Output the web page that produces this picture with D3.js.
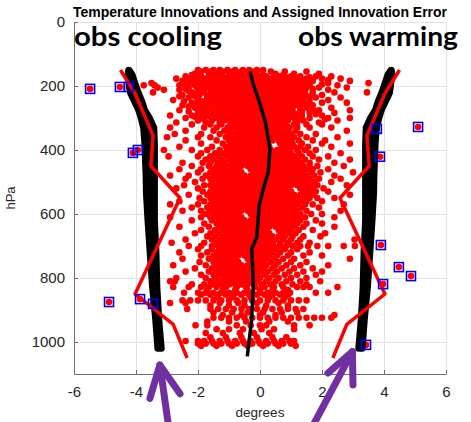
<!DOCTYPE html>
<html>
<head>
<meta charset="utf-8">
<script src="https://cdn.jsdelivr.net/npm/d3@7"></script>
<style>
  html, body { margin: 0; padding: 0; background: #fff; }
  svg { display: block; }
</style>
</head>
<body>
<svg id="chart" width="471" height="422"></svg>
<script>
// ---- axis ticks ----
const xTicks = [-6, -4, -2, 0, 2, 4, 6];
const yTicks = [0, 200, 400, 600, 800, 1000];

// ---- temperature innovations: [pressure hPa, innovations (deg)] ----
const innovRows = [
  [150, [-2.0,-1.75,-1.5,-1.3,-1.05,-0.8,-0.55,-0.35,-0.1,0.1]],
  [155, [-1.9,-1.6,-1.2,-0.9,-0.6,-0.25,0.35,0.8,1.5]],
  [162, [-2.1,-1.4,-0.7,-0.1,0.5,1.1,1.9]],
  [166, [-2.2,-1.65,-1.0,-0.4,0.1,0.75]],
  [170, [-2.4,-1.9,-1.5,-1.2,-0.8,-0.5,-0.2,0.2,0.6,1.0,1.3,1.8,2.3]],
  [173, [-2.05,-1.65,-1.3,-0.95,-0.6,-0.05,0.45,0.85,1.6]],
  [177, [-2.7,-2.2,-1.8,-1.4,-1.1,-0.7,-0.3,0.0,0.3,0.7,1.1,1.5,2.0,2.6]],
  [181, [-2.35,-1.95,-1.55,-1.2,-0.85,-0.5,-0.15,0.15,0.6,0.95,1.35,2.2]],
  [184, [-2.5,-2.0,-1.6,-1.3,-0.95,-0.6,-0.25,0.1,0.45,0.9,1.25,1.7,2.9]],
  [188, [-2.15,-1.75,-1.4,-1.05,-0.7,-0.35,0.0,0.45,0.8,1.15,1.55]],
  [191, [-3.5,-2.3,-1.85,-1.5,-1.15,-0.8,-0.45,-0.1,0.3,0.6,1.0,1.4,2.2,3.5]],
  [195, [-2.45,-1.95,-1.55,-1.2,-0.85,-0.5,-0.05,0.3,0.65,1.0,1.4,2.0]],
  [198, [-3.75,-3.4,-2.6,-2.1,-1.7,-1.3,-0.95,-0.6,-0.2,0.15,0.5,0.85,1.2,1.6,2.5]],
  [202, [-2.05,-1.65,-1.25,-0.85,-0.5,-0.15,0.2,0.55,0.95,1.3]],
  [205, [-3.3,-2.3,-1.9,-1.5,-1.0,-0.7,-0.35,0.0,0.35,0.7,1.05,1.5,1.9,2.8]],
  [209, [-2.4,-1.8,-1.4,-1.05,-0.65,-0.3,0.05,0.4,0.75,1.1,1.7]],
  [212, [-3.1,-2.6,-2.0,-1.6,-1.2,-0.85,-0.5,-0.15,0.2,0.55,0.9,1.3,2.2]],
  [216, [-2.3,-1.85,-1.45,-1.1,-0.7,-0.4,-0.05,0.3,0.7,1.05,1.45]],
  [220, [-3.45,-2.2,-1.8,-1.35,-1.0,-0.6,-0.25,0.05,0.4,0.8,1.2,1.7,2.4,3.45]],
  [224, [-2.0,-1.6,-1.2,-0.85,-0.5,-0.2,0.15,0.55,0.9,1.3]],
  [228, [-2.5,-1.95,-1.5,-1.1,-0.75,-0.4,-0.1,0.3,0.65,1.0,1.45,2.0]],
  [232, [-2.6,-2.1,-1.7,-1.35,-0.95,-0.6,-0.3,0.0,0.35,0.75,1.15,1.6]],
  [236, [-2.3,-1.7,-1.25,-0.9,-0.55,-0.2,0.15,0.5,0.9,1.3,1.8,2.6]],
  [240, [-2.0,-1.6,-1.15,-0.8,-0.45,-0.1,0.25,0.6,1.0,1.4]],
  [244, [-2.8,-2.0,-1.5,-1.05,-0.7,-0.35,0.0,0.35,0.7,1.1,1.6,2.2]],
  [248, [-2.45,-1.85,-1.4,-1.0,-0.65,-0.3,0.05,0.4,0.8,1.25]],
  [252, [-2.2,-1.75,-1.3,-0.85,-0.5,-0.15,0.2,0.55,0.95,1.4,2.0,2.8]],
  [256, [-2.0,-1.55,-1.15,-0.75,-0.4,-0.05,0.3,0.7,1.1,1.55]],
  [260, [-2.5,-1.9,-1.45,-1.0,-0.65,-0.3,0.05,0.4,0.75,1.2,1.7]],
  [264, [-2.3,-1.75,-1.3,-0.9,-0.55,-0.2,0.15,0.5,0.85,1.3]],
  [268, [-2.1,-1.6,-1.15,-0.8,-0.45,-0.1,0.25,0.6,1.0,1.5,2.3]],
  [272, [-1.95,-1.5,-1.1,-0.75,-0.4,-0.05,0.3,0.65,1.05,1.7]],
  [276, [-2.6,-1.8,-1.35,-0.95,-0.6,-0.25,0.1,0.45,0.85,1.3,1.9,2.9]],
  [280, [-2.3,-1.7,-1.25,-0.85,-0.5,-0.15,0.2,0.5,0.9,1.35]],
  [284, [-2.0,-1.5,-1.1,-0.75,-0.4,-0.05,0.3,0.65,1.05,1.6,2.4]],
  [288, [-1.85,-1.35,-0.95,-0.6,-0.3,0.05,0.4,0.75,1.15,1.8]],
  [292, [-2.9,-2.2,-1.7,-1.25,-0.9,-0.55,-0.2,0.15,0.5,0.9,1.35,2.0]],
  [296, [-2.1,-1.6,-1.2,-0.85,-0.5,-0.15,0.2,0.55,0.95,1.3]],
  [300, [-2.4,-1.9,-1.45,-1.05,-0.7,-0.35,0.0,0.35,0.7,1.1,1.6,2.2,2.9]],
  [304, [-1.8,-1.3,-0.95,-0.6,-0.3,0.05,0.4,0.75,1.15,2.1]],
  [308, [-2.0,-1.55,-1.15,-0.8,-0.5,-0.25,0.0,0.25,0.55,0.9,1.4,2.5]],
  [314, [-2.7,-1.75,-1.3,-0.95,-0.7,-0.45,-0.15,0.1,0.35,0.6,0.8,1.2,1.9]],
  [320, [-2.2,-1.6,-1.25,-0.95,-0.75,-0.55,-0.35,-0.15,0.05,0.25,0.45,0.65,0.85,1.1,1.5,2.0]],
  [330, [-2.9,-1.8,-1.4,-1.05,-0.85,-0.65,-0.45,-0.25,-0.05,0.15,0.35,0.55,0.75,0.95,1.2,1.6,2.3]],
  [340, [-2.4,-1.5,-1.15,-0.95,-0.7,-0.5,-0.3,-0.1,0.1,0.3,0.5,0.7,0.9,1.15,2.8]],
  [350, [-2.75,-1.9,-1.3,-1.0,-0.8,-0.6,-0.4,-0.2,0.0,0.2,0.4,0.6,0.8,1.0,1.3,1.8]],
  [360, [-3.0,-2.0,-1.6,-1.1,-0.9,-0.7,-0.5,-0.3,-0.1,0.1,0.3,0.5,0.7,0.9,1.1,1.5,2.5]],
  [370, [-2.4,-1.4,-1.0,-0.8,-0.6,-0.4,-0.2,0.0,0.2,0.4,0.6,0.8,1.0,1.25,1.7,2.1]],
  [380, [-1.9,-1.2,-0.95,-0.75,-0.55,-0.35,-0.15,0.05,0.25,0.65,0.85,1.05,1.35,2.0,2.9]],
  [390, [-2.6,-1.55,-1.1,-0.9,-0.7,-0.5,-0.3,-0.1,0.1,0.3,0.7,0.9,1.1,1.3,1.55,2.3]],
  [400, [-3.1,-2.2,-1.7,-1.3,-1.05,-0.85,-0.65,-0.45,-0.25,-0.05,0.15,0.35,0.55,0.75,0.95,1.2,1.45,1.8]],
  [410, [-1.9,-1.45,-1.2,-1.0,-0.8,-0.6,-0.4,-0.2,0.0,0.2,0.4,0.6,0.8,1.0,1.25,1.6,2.6]],
  [420, [-2.95,-2.0,-1.6,-1.35,-1.1,-0.9,-0.7,-0.5,-0.3,-0.1,0.1,0.3,0.5,0.7,0.9,1.1,1.35,1.7,2.2]],
  [430, [-1.75,-1.5,-1.25,-1.0,-0.8,-0.6,-0.4,-0.2,0.0,0.2,0.4,0.6,0.8,1.0,1.2,1.45,1.9,2.9]],
  [440, [-2.5,-1.85,-1.6,-1.35,-1.15,-0.9,-0.7,-0.5,-0.3,-0.1,0.1,0.3,0.5,0.7,0.9,1.1,1.3,1.6,2.4]],
  [450, [-2.2,-1.65,-1.4,-1.2,-1.0,-0.8,-0.6,-0.4,-0.2,0.0,0.2,0.4,0.6,0.8,1.0,1.2,1.4,1.6,1.85,2.7]],
  [460, [-2.6,-1.9,-1.5,-1.3,-1.1,-0.9,-0.7,-0.3,-0.1,0.1,0.3,0.5,0.7,0.9,1.1,1.3,1.5,1.7,2.2]],
  [470, [-2.0,-1.6,-1.4,-1.2,-1.0,-0.8,-0.6,-0.2,0.0,0.2,0.4,0.6,0.8,1.0,1.2,1.4,1.65,1.95,3.0]],
  [480, [-2.9,-2.3,-1.75,-1.5,-1.3,-1.1,-0.9,-0.7,-0.5,-0.3,-0.1,0.1,0.3,0.5,0.7,0.9,1.1,1.3,1.5,1.75,2.4]],
  [490, [-2.4,-1.85,-1.6,-1.4,-1.2,-1.0,-0.8,-0.6,-0.4,-0.2,0.0,0.2,0.4,0.6,0.8,1.0,1.2,1.4,1.6,1.9,2.6]],
  [500, [-2.1,-1.55,-1.3,-1.1,-0.9,-0.7,-0.5,-0.3,-0.1,0.1,0.3,0.5,0.7,0.9,1.1,1.3,1.5,1.75,2.3]],
  [510, [-2.45,-1.8,-1.6,-1.4,-1.2,-1.0,-0.8,-0.6,-0.4,-0.2,0.0,0.2,0.4,0.6,0.8,1.0,1.2,1.4,1.6,1.85,2.8]],
  [520, [-2.7,-2.0,-1.5,-1.3,-1.1,-0.9,-0.7,-0.5,-0.3,-0.1,0.1,0.3,0.5,0.7,0.9,1.3,1.5,1.7,2.05]],
  [530, [-1.85,-1.6,-1.4,-1.2,-1.0,-0.8,-0.6,-0.4,-0.2,0.0,0.2,0.4,0.6,0.8,1.0,1.4,1.6,1.8,2.2]],
  [540, [-2.3,-1.7,-1.5,-1.3,-1.1,-0.9,-0.7,-0.5,-0.3,-0.1,0.1,0.3,0.5,0.7,0.9,1.1,1.3,1.5,1.7,2.9]],
  [550, [-1.95,-1.6,-1.4,-1.2,-1.0,-0.8,-0.6,-0.4,-0.2,0.0,0.2,0.4,0.6,0.8,1.0,1.2,1.4,1.6,1.85,2.4]],
  [560, [-2.6,-1.8,-1.5,-1.3,-1.1,-0.9,-0.7,-0.5,-0.3,-0.1,0.1,0.3,0.5,0.7,0.9,1.1,1.3,1.5,2.0]],
  [570, [-2.9,-2.0,-1.6,-1.4,-1.2,-1.0,-0.8,-0.6,-0.4,-0.2,0.0,0.2,0.4,0.6,0.8,1.0,1.2,1.45,1.7,2.7]],
  [580, [-2.2,-1.7,-1.5,-1.3,-1.1,-0.9,-0.7,-0.5,-0.3,-0.1,0.1,0.3,0.5,0.7,0.9,1.1,1.35,1.9]],
  [590, [-2.5,-1.9,-1.6,-1.4,-1.2,-1.0,-0.8,-0.6,-0.4,-0.2,0.0,0.2,0.4,0.6,0.8,1.0,1.2,1.5,2.6]],
  [600, [-1.75,-1.5,-1.3,-1.1,-0.9,-0.7,-0.3,-0.1,0.1,0.3,0.5,0.7,0.9,1.1,1.3,1.65,2.0]],
  [610, [-2.9,-1.9,-1.6,-1.4,-1.2,-1.0,-0.8,-0.6,-0.2,0.0,0.2,0.4,0.6,0.8,1.0,1.2,1.45,2.4]],
  [620, [-2.2,-1.55,-1.3,-1.1,-0.9,-0.7,-0.5,-0.3,-0.1,0.1,0.3,0.5,0.7,0.9,1.1,1.3,1.8]],
  [630, [-1.8,-1.4,-1.2,-1.0,-0.8,-0.6,-0.4,-0.2,0.0,0.2,0.4,0.6,0.8,1.0,1.2,1.5,2.0]],
  [640, [-2.6,-1.65,-1.3,-1.1,-0.9,-0.7,-0.5,-0.3,-0.1,0.1,0.3,0.5,0.7,0.9,1.1,1.4,2.4]],
  [650, [-1.9,-1.45,-1.2,-1.0,-0.8,-0.6,-0.4,-0.2,0.0,0.2,0.6,0.8,1.0,1.25,1.7]],
  [660, [-2.1,-1.6,-1.35,-1.1,-0.9,-0.7,-0.5,-0.3,-0.1,0.1,0.3,0.7,0.9,1.15,2.1]],
  [670, [-1.7,-1.45,-1.2,-1.0,-0.8,-0.6,-0.4,-0.2,0.0,0.2,0.4,0.6,0.8,1.05,1.4,1.95]],
  [680, [-2.4,-1.55,-1.3,-1.1,-0.9,-0.7,-0.5,-0.3,-0.1,0.1,0.3,0.5,0.75,1.0,1.3,3.05]],
  [690, [-2.85,-1.8,-1.4,-1.2,-1.0,-0.8,-0.6,-0.4,-0.2,0.0,0.2,0.4,0.65,0.9,1.2,1.6]],
  [700, [-2.3,-1.9,-1.55,-1.35,-1.15,-0.95,-0.75,-0.55,-0.35,-0.15,0.05,0.25,0.45,0.65,0.85,1.05,1.3,1.55,1.85,2.2,2.7,3.06]],
  [710, [-2.0,-1.55,-1.3,-1.1,-0.9,-0.7,-0.5,-0.3,-0.1,0.1,0.3,0.5,0.8,1.2]],
  [720, [-2.6,-1.7,-1.4,-1.2,-1.0,-0.8,-0.6,-0.4,-0.2,0.0,0.2,0.4,0.65,1.0,1.6]],
  [730, [-1.9,-1.5,-1.3,-1.1,-0.9,-0.7,-0.5,-0.3,-0.1,0.1,0.3,0.55,0.9,1.4,2.0]],
  [740, [-2.5,-1.65,-1.4,-1.2,-1.0,-0.8,-0.4,-0.2,0.0,0.2,0.45,0.75,1.1,2.9]],
  [750, [-1.95,-1.5,-1.3,-1.1,-0.9,-0.7,-0.3,-0.1,0.1,0.35,0.6,1.0,1.5]],
  [760, [-2.8,-1.75,-1.4,-1.2,-1.0,-0.8,-0.6,-0.4,-0.2,0.0,0.2,0.5,0.85,1.3,2.2]],
  [770, [-2.1,-1.55,-1.3,-1.1,-0.9,-0.7,-0.5,-0.3,-0.1,0.1,0.4,0.7,1.1,1.7]],
  [780, [-2.4,-1.65,-1.4,-1.2,-1.0,-0.8,-0.6,-0.4,-0.2,0.0,0.25,0.55,0.95,1.4,2.0]],
  [790, [-1.9,-1.5,-1.3,-1.1,-0.9,-0.7,-0.5,-0.3,-0.1,0.15,0.45,0.8,1.2,1.8]],
  [800, [-2.7,-1.75,-1.45,-1.2,-1.0,-0.8,-0.6,-0.4,-0.2,0.0,0.3,0.6,1.0,1.5]],
  [810, [-2.9,-2.75,-1.6,-1.35,-1.1,-0.9,-0.7,-0.5,-0.3,-0.1,0.2,0.5,0.85,1.3,1.94]],
  [820, [-2.2,-1.8,-1.5,-1.25,-1.0,-0.8,-0.6,-0.4,-0.2,0.05,0.35,0.7,1.05,1.5]],
  [828, [-2.8,-2.3,-1.9,-1.65,-1.4,-1.1,-0.75,-0.45,-0.15,0.15,0.45,0.75,1.2,1.4,1.6,2.5]],
  [838, [-1.7,-1.2,-0.8,-0.4,0.0,0.4,0.9]],
  [846, [-2.45,-2.0,-1.75,-1.5,-1.25,-1.0,-0.75,-0.5,-0.25,0.0,0.25,0.5,0.75,0.97,1.8,2.2]],
  [852, [-1.9,-1.6,-1.35,-1.1,-0.85,-0.6,-0.35,-0.1,0.15,0.4,0.65,0.9]],
  [860, [-1.4,-0.9,-0.3,0.3,0.8]],
  [870, [-2.5,-2.25,-2.0,-1.75,-1.5,-1.25,-1.0,-0.75,-0.5,-0.25,0.0,0.25,0.5,0.75,1.0,1.25,1.5]],
  [878, [-2.9,-2.4,-1.3,-0.7,-0.1,0.6]],
  [886, [-1.6,-1.0,-0.5,0.2,0.9]],
  [897, [-2.35,-1.6,-1.35,-1.1,-0.85,-0.6,-0.35,-0.1,0.15,0.4,0.65,0.9,1.15,1.4]],
  [908, [-1.5,-0.9,-0.4,0.1,0.7,1.2]],
  [916, [-1.2,-0.6,0.0,0.5,2.4]],
  [924, [-1.5,-1.25,-1.0,-0.75,-0.5,-0.25,0.0,0.25,0.5,0.75,1.0,1.25,1.5,1.75,2.0,2.3]],
  [936, [-1.7,-1.0,-0.45,0.3,0.9]],
  [948, [-2.08,-1.7,-0.75,-0.3,0.0,0.2,1.1,1.6]],
  [960, [-1.4,-1.0,-0.55,0.05,0.45,1.1]],
  [972, [-1.75,-1.2,-0.65,-0.2,0.3]],
  [985, [-1.6,-1.1,-0.6,-0.1,0.4,0.85]],
  [997, [-2.4,-2.0,-1.8,-1.55,-1.3,-1.05,-0.8,-0.55,-0.3,-0.05,0.2,0.45,0.7,0.95,1.1]],
  [1005, [-2.0,-1.75,-1.5,-1.25,-1.0,-0.75,-0.5,-0.25,0.0,0.25,0.5,0.75,1.0]],
  [1012, [-1.9,-1.4,-0.9,-0.4,0.1,0.6,1.15]]
];

// ---- innovations rejected by the check (boxed) ----
const flaggedX = [-5.48, -4.52, -4.23, -4.1, -3.94, -4.87, -3.87, -3.45, 3.77, 5.1, 3.87, 3.9, 4.48, 4.87, 3.97, 3.42];
const flaggedP = [209, 203, 203, 409, 400, 875, 866, 881, 334, 328, 421, 697, 766, 794, 819, 1009];

// ---- assigned innovation error (plotted as +/- band) ----
const errP     = [150, 165, 195, 222, 250, 275, 300, 330, 380, 430, 480, 535, 620, 720, 830, 930, 1020];
const errInner = [4.22, 4.12, 4.02, 3.92, 3.8, 3.72, 3.56, 3.42, 3.4, 3.4, 3.4, 3.4, 3.4, 3.35, 3.32, 3.26, 3.18];
const errOuter = [4.24, 4.26, 4.22, 4.18, 4.04, 3.92, 3.84, 3.76, 3.72, 3.7, 3.68, 3.67, 3.62, 3.55, 3.47, 3.37, 3.3];

// ---- mean innovation profile ----
const meanP = [155, 200, 250, 312, 395, 468, 520, 575, 672, 710, 760, 830, 930, 1045];
const meanX = [-0.32, -0.2, -0.02, 0.17, 0.32, 0.27, 0.11, -0.03, -0.1, -0.27, -0.24, -0.22, -0.27, -0.41];

// ---- rejection threshold (symmetric, red) ----
const threshP   = [150, 225, 355, 450, 550, 850, 945, 1050];
const threshMag = [4.5, 4.02, 3.45, 3.52, 2.58, 4.03, 2.8, 2.35];

// ---- annotation arrows, in (deg, hPa) ----
const arrowTip   = [[-3.23, 1072], [2.98, 1030]];
const arrowTail  = [[-2.91, 1290], [1.55, 1290]];
const arrowWingA = [[-3.55, 1176], [2.19, 1097]];
const arrowWingB = [[-2.58, 1162], [3.0, 1134]];

// ---------------------------------------------------------------
const svg = d3.select("#chart");
const x = d3.scaleLinear().domain([-6, 6]).range([74, 446]);
const y = d3.scaleLinear().domain([0, 1100]).range([22, 374]);
const [x0, x1] = x.range();
const [y0, y1] = y.range();

const textColor = "#262626";
const axisFont = "'Liberation Sans', Arial, Helvetica, sans-serif";

// grid
const grid = svg.append("g").attr("stroke", "#e2e2e2").attr("stroke-width", 1);
grid.selectAll("line.gx").data(xTicks).join("line").attr("class", "gx")
  .attr("x1", d => Math.round(x(d)) + 0.5).attr("x2", d => Math.round(x(d)) + 0.5)
  .attr("y1", y0).attr("y2", y1);
grid.selectAll("line.gy").data(yTicks).join("line").attr("class", "gy")
  .attr("y1", d => Math.round(y(d)) + 0.5).attr("y2", d => Math.round(y(d)) + 0.5)
  .attr("x1", x0).attr("x2", x1);

// clip for data
svg.append("defs").append("clipPath").attr("id", "plot-clip")
  .append("rect").attr("x", x0).attr("y", y0).attr("width", x1 - x0).attr("height", y1 - y0);
const plot = svg.append("g").attr("clip-path", "url(#plot-clip)");

// innovation dots
const innov = innovRows.flatMap(([p, xs]) => xs.map(v => ({ p, v })));
const flagged = flaggedX.map((v, i) => ({ v, p: flaggedP[i] }));
const R = 3.3;
plot.append("g").attr("fill", "#ff0000")
  .selectAll("circle").data(innov.concat(flagged)).join("circle")
  .attr("cx", d => x(d.v)).attr("cy", d => y(d.p)).attr("r", R);

// assigned error band, both signs
const err = errP.map((p, i) => ({ p, inner: errInner[i], outer: errOuter[i] }));
[-1, 1].forEach(sign => {
  const area = d3.area()
    .y(d => y(d.p))
    .x0(d => x(sign * d.inner))
    .x1(d => x(sign * d.outer));
  plot.append("path").datum(err)
    .attr("d", area)
    .attr("fill", "#000").attr("stroke", "#000")
    .attr("stroke-width", 2 * R).attr("stroke-linejoin", "round");
});

// mean innovation line
const mean = meanP.map((p, i) => ({ p, v: meanX[i] }));
plot.append("path").datum(mean)
  .attr("d", d3.line().x(d => x(d.v)).y(d => y(d.p)))
  .attr("fill", "none").attr("stroke", "#000").attr("stroke-width", 3.5)
  .attr("stroke-linejoin", "round");

// threshold lines
const thresh = threshP.map((p, i) => ({ p, m: threshMag[i] }));
[-1, 1].forEach(sign => {
  plot.append("path").datum(thresh)
    .attr("d", d3.line().x(d => x(sign * d.m)).y(d => y(d.p)))
    .attr("fill", "none").attr("stroke", "#ff0000").attr("stroke-width", 3.5)
    .attr("stroke-linejoin", "round");
});

// boxes round rejected innovations
const S = 9;
plot.append("g").attr("fill", "none").attr("stroke", "#0000ff").attr("stroke-width", 1.6)
  .selectAll("rect").data(flagged).join("rect")
  .attr("x", d => x(d.v) - S / 2).attr("y", d => y(d.p) - S / 2)
  .attr("width", S).attr("height", S);

// axes
const xAxis = d3.axisBottom(x).tickValues(xTicks).tickSizeInner(-4).tickSizeOuter(0).tickPadding(12)
  .tickFormat(d3.format("d"));
const yAxis = d3.axisLeft(y).tickValues(yTicks).tickSizeInner(-4).tickSizeOuter(0).tickPadding(9)
  .tickFormat(d3.format("d"));

const gx = svg.append("g").attr("transform", `translate(0,${y1})`).call(xAxis);
const gy = svg.append("g").attr("transform", `translate(${x0},0)`).call(yAxis);
[gx, gy].forEach(g => {
  g.select(".domain").attr("stroke", "#6e6e6e");
  g.selectAll(".tick line").attr("stroke", "#6e6e6e");
  g.selectAll(".tick text").attr("fill", textColor)
    .style("font-family", axisFont).style("font-size", "15px");
});
gx.selectAll(".tick text").text(d => d < 0 ? "-" + Math.abs(d) : d);

// axis labels
svg.append("text").attr("x", (x0 + x1) / 2).attr("y", 417)
  .attr("text-anchor", "middle").attr("fill", textColor)
  .style("font-family", axisFont).style("font-size", "13.5px").text("degrees");
svg.append("text").attr("transform", `translate(15,${(y0 + y1) / 2}) rotate(-90)`)
  .attr("text-anchor", "middle").attr("fill", textColor)
  .style("font-family", axisFont).style("font-size", "13px").text("hPa");

// title
svg.append("text").attr("x", (x0 + x1) / 2).attr("y", 17)
  .attr("text-anchor", "middle").attr("fill", "#000")
  .style("font-family", axisFont).style("font-size", "14px").style("font-weight", "bold")
  .text("Temperature Innovations and Assigned Innovation Error");

// side captions
const capFont = "Lato, 'Open Sans', sans-serif";
svg.append("text").attr("x", 74).attr("y", 46)
  .attr("textLength", 148).attr("lengthAdjust", "spacingAndGlyphs")
  .style("font-family", capFont).style("font-size", "26px").style("font-weight", "bold")
  .attr("fill", "#000").text("obs cooling");
svg.append("text").attr("x", 298).attr("y", 46)
  .attr("textLength", 160).attr("lengthAdjust", "spacingAndGlyphs")
  .style("font-family", capFont).style("font-size", "26px").style("font-weight", "bold")
  .attr("fill", "#000").text("obs warming");

// arrows
const arrowG = svg.append("g").attr("fill", "none").attr("stroke", "#7030a0")
  .attr("stroke-width", 7).attr("stroke-linecap", "round").attr("stroke-linejoin", "round");
const pt = d => [x(d[0]), y(d[1])];
arrowTip.forEach((tip, i) => {
  const line = d3.line();
  arrowG.append("path").attr("d", line([pt(arrowTail[i]), pt(tip)]));
  arrowG.append("path").attr("d", line([pt(arrowWingA[i]), pt(tip), pt(arrowWingB[i])]));
});
</script>
</body>
</html>
